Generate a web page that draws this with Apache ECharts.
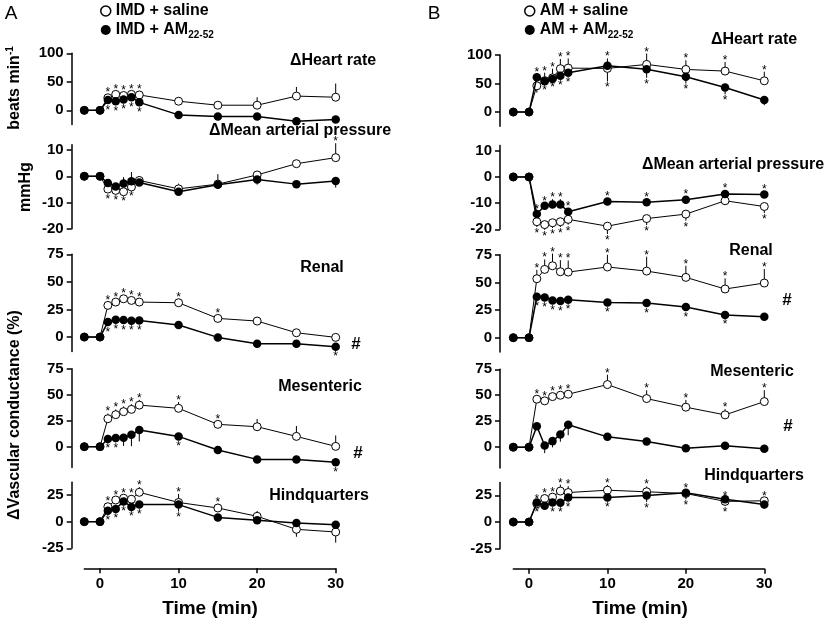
<!DOCTYPE html>
<html><head><meta charset="utf-8">
<script src="https://cdn.jsdelivr.net/npm/echarts@6/dist/echarts.min.js"></script>
<style>html,body{margin:0;padding:0;background:#fff}#c{width:827px;height:622px}</style>
</head><body><div id="c"></div>
<script>
// ---- data ----
const time = [-2, 0, 1, 2, 3, 4, 5, 10, 15, 20, 25, 30];
const xTicks = [0, 10, 20, 30];

// Column A : IMD
const imdHrSaline      = [0, 0, 22, 28, 26, 28, 27, 16, 9, 9, 25, 23];
const imdHrSalineErr   = [0, 0, 0, 5, 0, 6, 0, 0, 0, 14, 16, 24];
const imdHrSalineStar  = [0, 0, 1, 1, 1, 1, 1, 0, 0, 0, 0, 0];
const imdHrAm          = [0, 0, 18, 16, 19, 23, 14, -8, -11, -11, -19, -16];
const imdHrAmErr       = [0, 0, 0, 0, 0, 0, 0, 0, 0, 0, 0, 0];
const imdHrAmStar      = [0, 0, -1, -1, -1, -1, -1, 0, 0, 0, 0, 0];

const imdMapSaline     = [0, 0, -4.9, -5.4, -5.9, -4.1, -1.6, -4.8, -3, 0.5, 4.8, 7.1];
const imdMapSalineErr  = [0, 0, 0, 0, 0, 0, 0, 2, 0, 0, 0, 5.5];
const imdMapSalineStar = [0, 0, -1, -1, -1, -1, 0, 0, 0, 0, 0, 1];
const imdMapAm         = [0, 0, -2.6, -3.9, -2.8, -1.9, -2.4, -5.9, -3.2, -1.2, -3, -1.8];
const imdMapAmErr      = [0, 0, 0, 0, 2.5, 3.5, 2.5, -1.5, 4, -2, 0, -2.5];
const imdMapAmStar     = [0, 0, 0, 0, 0, 0, 0, 0, 0, 0, 0, 0];

const imdRenalSaline     = [0, 0, 28.7, 31.7, 34.7, 33.2, 31.7, 31.1, 16.9, 14.5, 3.9, -0.3];
const imdRenalSalineErr  = [0, 0, 0, 0, 0, 0, 0, 0, 0, 0, 3, 0];
const imdRenalSalineStar = [0, 0, 1, 1, 1, 1, 1, 1, 1, 0, 0, 0];
const imdRenalAm         = [0, 0, 13.6, 15.7, 15.4, 14.8, 15.1, 10.9, -0.3, -6, -6, -8.8];
const imdRenalAmErr      = [0, 0, 0, 0, 0, 0, 0, 0, 0, 0, 0, 0];
const imdRenalAmStar     = [0, 0, -1, -1, -1, -1, -1, 0, 0, 0, 0, -1];

const imdMesSaline     = [0, 0, 26.9, 30.8, 33.7, 35.9, 40, 36.9, 21.5, 19.2, 9.9, 0.3];
const imdMesSalineErr  = [0, 0, 5, 5, 5, 5, 5, 6, 3, 7.5, 10, 10.5];
const imdMesSalineStar = [0, 0, 1, 1, 1, 1, 1, 1, 1, 0, 0, 0];
const imdMesAm         = [0, 0, 7.4, 8.3, 8.7, 11.5, 16, 9.9, -3.2, -12.2, -12.2, -15];
const imdMesAmErr      = [0, 0, 0, -4, -8, -11, -11, 0, -3, 0, 0, 0];
const imdMesAmStar     = [0, 0, -1, -1, 0, 0, 0, -1, 0, 0, 0, -1];

const imdHqSaline     = [0, 0, 14, 20.3, 22, 21, 27.5, 18, 12.8, 5, -7.2, -9.7];
const imdHqSalineErr  = [0, 0, 3, 3, 3, 4, 5, 8, 4, 5, -7, -10];
const imdHqSalineStar = [0, 0, 1, 1, 1, 1, 1, 1, 1, 0, 0, 0];
const imdHqAm         = [0, 0, 10.3, 11.9, 19, 13.8, 16, 16, 4, 1.2, -1.2, -2.8];
const imdHqAmErr      = [0, 0, 0, 0, 0, 0, 0, -6.5, 0, -3, -3, 0];
const imdHqAmStar     = [0, 0, -1, -1, -1, -1, -1, -1, 0, 0, 0, 0];

// Column B : AM
const amHrSaline      = [0, 0, 46, 55, 60, 76, 77, 76.5, 83.5, 74.7, 71.8, 54.7];
const amHrSalineErr   = [0, 0, -12, 0, 0, 17, 17, -23, 19, 16, 16, 16];
const amHrSalineStar  = [0, 0, 0, -1, -1, 1, 1, -1, 1, 1, 1, 1];
const amHrAm          = [0, 0, 61, 54, 58, 63.5, 69, 81, 75, 62, 43, 21];
const amHrAmErr       = [0, 0, 0, 15, 18, 0, 0, 13, -15, -12, -12, -9];
const amHrAmStar      = [0, 0, 1, 1, 1, -1, -1, 1, -1, -1, -1, 0];

const amMapSaline     = [0, 0, -17.1, -18.2, -17.5, -17.1, -16.2, -18.8, -15.9, -14.2, -9.1, -11.3];
const amMapSalineErr  = [0, 0, -2, -2, -2, -2, -2, -3, -2.5, -2.5, 0, -2.5];
const amMapSalineStar = [0, 0, -1, -1, -1, -1, -1, -1, -1, -1, 0, -1];
const amMapAm         = [0, 0, -14.2, -11, -10.5, -10.5, -13.3, -9.4, -9.7, -8.7, -6.5, -6.7];
const amMapAmErr      = [0, 0, 0, 1, 2, 2, 0, 0, 0, 0, 0, 0];
const amMapAmStar     = [0, 0, 1, 1, 1, 1, 1, 1, 1, 1, 1, 1];

const amRenalSaline     = [0, 0, 53.3, 61.7, 65, 59.6, 59.3, 63.9, 60.2, 54.5, 44, 49.4];
const amRenalSalineErr  = [0, 0, 8, 9, 11, 10.5, 10.5, 11, 13, 10.5, 9.6, 12.6];
const amRenalSalineStar = [0, 0, 1, 1, 1, 1, 1, 1, 1, 1, 1, 1];
const amRenalAm         = [0, 0, 37, 36.4, 33.7, 33.1, 34.3, 31.9, 31.3, 27.7, 20.5, 19];
const amRenalAmErr      = [0, 0, 0, 0, 0, 0, 0, 0, 0, 0, 0, -3];
const amRenalAmStar     = [0, 0, -1, -1, -1, -1, -1, -1, -1, -1, -1, 0];

const amMesSaline     = [0, 0, 46.2, 44.6, 48.7, 50, 51, 60.3, 46.8, 38.5, 31.1, 43.9];
const amMesSalineErr  = [0, 0, 3, 3, 3, 3, 3, 9.5, 8, 7, 5.5, 11];
const amMesSalineStar = [0, 0, 1, 1, 1, 1, 1, 1, 1, 1, 1, 1];
const amMesAm         = [0, 0, 20.2, 1.6, 5.8, 12.2, 21.5, 9.9, 5.4, -1, 1.3, -1.6];
const amMesAmErr      = [0, 0, 0, -7.4, -6, -7, -10, 0, 0, 0, 0, -3];
const amMesAmStar     = [0, 0, 0, 0, 0, 0, 0, 0, 0, 0, 0, 0];

const amHqSaline     = [0, 0, 17, 22, 23.3, 29, 27.6, 29.8, 28.3, 26.7, 19.3, 19.9];
const amHqSalineErr  = [0, 0, 3, 3, 3, 6, 6, 5, 5, 3, 3, 3];
const amHqSalineStar = [0, 0, 1, 1, 1, 1, 1, 1, 1, 1, 1, 1];
const amHqAm         = [0, 0, 18.3, 15.2, 18.3, 18, 23, 23, 24.8, 27.3, 21.4, 16.5];
const amHqAmErr      = [0, 0, 0, 0, 0, 0, 0, 0, -6, -6, -6, -4];
const amHqAmStar     = [0, 0, -1, 0, -1, -1, -1, -1, -1, -1, -1, 0];

const rowTitles = ['\u0394Heart rate', '\u0394Mean arterial pressure', 'Renal', 'Mesenteric', 'Hindquarters'];
const rowRanges = [[-25, 100], [-20, 12], [-13, 75], [-20, 75], [-25, 37]];
const rowTicks  = [[0, 50, 100], [-20, -10, 0, 10], [0, 25, 50, 75], [0, 25, 50, 75], [-25, 0, 25]];
const legendA = ['IMD + saline', 'IMD + AM22-52'];
const legendB = ['AM + saline', 'AM + AM22-52'];

// ---- layout ----
const FONT = '"Liberation Sans", Arial, Helvetica, sans-serif';
const cols = [
  { left: 84.3, width: 251.4, offset: 12.6, names: legendA,
    rowPx: [[53.3, 124.6], [144.8, 228.7], [254.3, 351.4], [368.7, 467.5], [482.2, 548.3]],
    data: [
      [imdHrSaline, imdHrSalineErr, imdHrSalineStar, imdHrAm, imdHrAmErr, imdHrAmStar],
      [imdMapSaline, imdMapSalineErr, imdMapSalineStar, imdMapAm, imdMapAmErr, imdMapAmStar],
      [imdRenalSaline, imdRenalSalineErr, imdRenalSalineStar, imdRenalAm, imdRenalAmErr, imdRenalAmStar],
      [imdMesSaline, imdMesSalineErr, imdMesSalineStar, imdMesAm, imdMesAmErr, imdMesAmStar],
      [imdHqSaline, imdHqSalineErr, imdHqSalineStar, imdHqAm, imdHqAmErr, imdHqAmStar]
    ] },
  { left: 513.3, width: 251, offset: 13.3, names: legendB,
    rowPx: [[55, 126.3], [145.5, 229.3], [254.7, 352.1], [369.3, 467.9], [482.5, 548.7]],
    data: [
      [amHrSaline, amHrSalineErr, amHrSalineStar, amHrAm, amHrAmErr, amHrAmStar],
      [amMapSaline, amMapSalineErr, amMapSalineStar, amMapAm, amMapAmErr, amMapAmStar],
      [amRenalSaline, amRenalSalineErr, amRenalSalineStar, amRenalAm, amRenalAmErr, amRenalAmStar],
      [amMesSaline, amMesSalineErr, amMesSalineStar, amMesAm, amMesAmErr, amMesAmStar],
      [amHqSaline, amHqSalineErr, amHqSalineStar, amHqAm, amHqAmErr, amHqAmStar]
    ] }
];

function renderErr(params, api) {
  const t = api.value(0), v = api.value(1), e = api.value(2), s = api.value(3);
  const p0 = api.coord([t, v]);
  const children = [];
  let anchor = p0, gap = 4.5;
  if (e !== 0) {
    const p1 = api.coord([t, v + e]);
    children.push({ type: 'line', shape: { x1: p0[0], y1: p0[1], x2: p1[0], y2: p1[1] },
      style: { stroke: '#000', lineWidth: 1 } });
    if (Math.sign(e) === Math.sign(s)) { anchor = p1; gap = 1; }
  }
  if (s !== 0) {
    const dir = s > 0 ? -1 : 1;
    const fs = 12;
    const cy = anchor[1] + dir * (gap + 3) + 0.22 * fs;
    children.push({ type: 'text', x: anchor[0], y: cy,
      style: { text: '*', fontSize: fs, fontFamily: FONT, fill: '#000', align: 'center', verticalAlign: 'middle' } });
  }
  return { type: 'group', children };
}

const grids = [], xAxes = [], yAxes = [], series = [];
cols.forEach((c, ci) => {
  c.rowPx.forEach((rp, ri) => {
    const idx = grids.length;
    const last = ri === 4;
    grids.push({ left: c.left, width: c.width, top: rp[0], height: rp[1] - rp[0] });
    xAxes.push({ gridIndex: idx, type: 'value', min: -2, max: 30, show: last, offset: last ? 20 : 0,
      axisLine: { show: true, onZero: false, lineStyle: { color: '#000', width: 1.5 } },
      axisTick: { show: true, length: 5, customValues: xTicks, lineStyle: { color: '#000', width: 1.5 } },
      axisLabel: { customValues: xTicks, fontFamily: FONT, fontWeight: 'bold', fontSize: 15, color: '#000', margin: 8 },
      splitLine: { show: false } });
    yAxes.push({ gridIndex: idx, type: 'value', min: rowRanges[ri][0], max: rowRanges[ri][1], offset: c.offset,
      axisLine: { show: true, onZero: false, lineStyle: { color: '#000', width: 1.5 } },
      axisTick: { show: true, length: 5, customValues: rowTicks[ri], lineStyle: { color: '#000', width: 1.5 } },
      axisLabel: { customValues: rowTicks[ri], fontFamily: FONT, fontWeight: 'bold', fontSize: 15, color: '#000', margin: 8 },
      splitLine: { show: false } });
    const [sal, salE, salS, am, amE, amS] = c.data[ri];
    series.push({ type: 'custom', xAxisIndex: idx, yAxisIndex: idx, z: 2, renderItem: renderErr, silent: true,
      data: time.map((t, k) => [t, sal[k], salE[k], salS[k]]) });
    series.push({ type: 'custom', xAxisIndex: idx, yAxisIndex: idx, z: 2, renderItem: renderErr, silent: true,
      data: time.map((t, k) => [t, am[k], amE[k], amS[k]]) });
    series.push({ type: 'line', name: c.names[0], xAxisIndex: idx, yAxisIndex: idx, z: 3,
      data: time.map((t, k) => [t, sal[k]]), symbol: 'circle', symbolSize: 8,
      itemStyle: { color: '#fff', borderColor: '#000', borderWidth: 1 },
      lineStyle: { color: '#000', width: 1 } });
    series.push({ type: 'line', name: c.names[1], xAxisIndex: idx, yAxisIndex: idx, z: 4,
      data: time.map((t, k) => [t, am[k]]), symbol: 'circle', symbolSize: 8.5,
      itemStyle: { color: '#000', borderColor: '#000', borderWidth: 0 },
      lineStyle: { color: '#000', width: 1.5 } });
  });
});

function legendOf(names, left) {
  return { left: left, top: -3, orient: 'vertical', itemGap: 0, itemWidth: 10, itemHeight: 10,
    icon: 'circle', selectedMode: false,
    textStyle: { fontFamily: FONT, fontWeight: 'bold', fontSize: 16, color: '#000', lineHeight: 18,
      rich: { sub: { fontFamily: FONT, fontWeight: 'bold', fontSize: 10, lineHeight: 10, padding: [10, 0, 0, 0] } } },
    formatter: n => n.replace('22-52', '{sub|22-52}'),
    data: [ { name: names[0], itemStyle: { color: '#fff', borderColor: '#000', borderWidth: 1.5 } },
            { name: names[1], itemStyle: { color: '#000', borderWidth: 0 } } ] };
}

function T(x, y, text, extra) {
  return Object.assign({ type: 'text', x: x, y: y, silent: true,
    style: Object.assign({ text: text, fontFamily: FONT, fontWeight: 'bold', fontSize: 16, fill: '#000',
      align: 'center', verticalAlign: 'middle' }, (extra && extra.style) || {}) },
    extra && extra.el || {});
}

const titlePos = [
  [[333, 61], [300, 131], [322, 268], [320, 387], [319, 496]],
  [[754, 40], [733, 165], [751, 251], [752, 372], [754, 476]]
];
const hashPos = [[[356, 344], [358, 453]], [[787, 300], [788, 426]]];
const graphics = [];
titlePos.forEach(col => col.forEach((p, i) => graphics.push(T(p[0], p[1], rowTitles[i]))));
hashPos.forEach(col => col.forEach(p => graphics.push(T(p[0], p[1], '#', { style: { fontSize: 17 } }))));
graphics.push(T(11, 14, 'A', { style: { fontWeight: 'normal', fontSize: 19 } }));
graphics.push(T(434, 14, 'B', { style: { fontWeight: 'normal', fontSize: 19 } }));
graphics.push(T(210, 609, 'Time (min)', { style: { fontSize: 19 } }));
graphics.push(T(640, 609, 'Time (min)', { style: { fontSize: 19 } }));
const rot = Math.PI / 2;
graphics.push({ type: 'text', x: 15, y: 88, rotation: rot, silent: true,
  style: { text: '{a|beats min}{s|-1}', align: 'center', verticalAlign: 'middle', fill: '#000',
    rich: { a: { fontFamily: FONT, fontWeight: 'bold', fontSize: 16, lineHeight: 18 },
            s: { fontFamily: FONT, fontWeight: 'bold', fontSize: 10, lineHeight: 10, padding: [0, 0, 9, 0] } } } });
graphics.push(T(26, 187, 'mmHg', { el: { rotation: rot } }));
graphics.push(T(15, 415, '\u0394Vascular conductance (%)', { el: { rotation: rot } }));

const option = {
  animation: false,
  backgroundColor: '#fff',
  grid: grids, xAxis: xAxes, yAxis: yAxes, series: series,
  legend: [legendOf(legendA, 95), legendOf(legendB, 519)],
  graphic: { elements: graphics }
};
const chart = echarts.init(document.getElementById('c'));
chart.setOption(option);
</script>
</body></html>
